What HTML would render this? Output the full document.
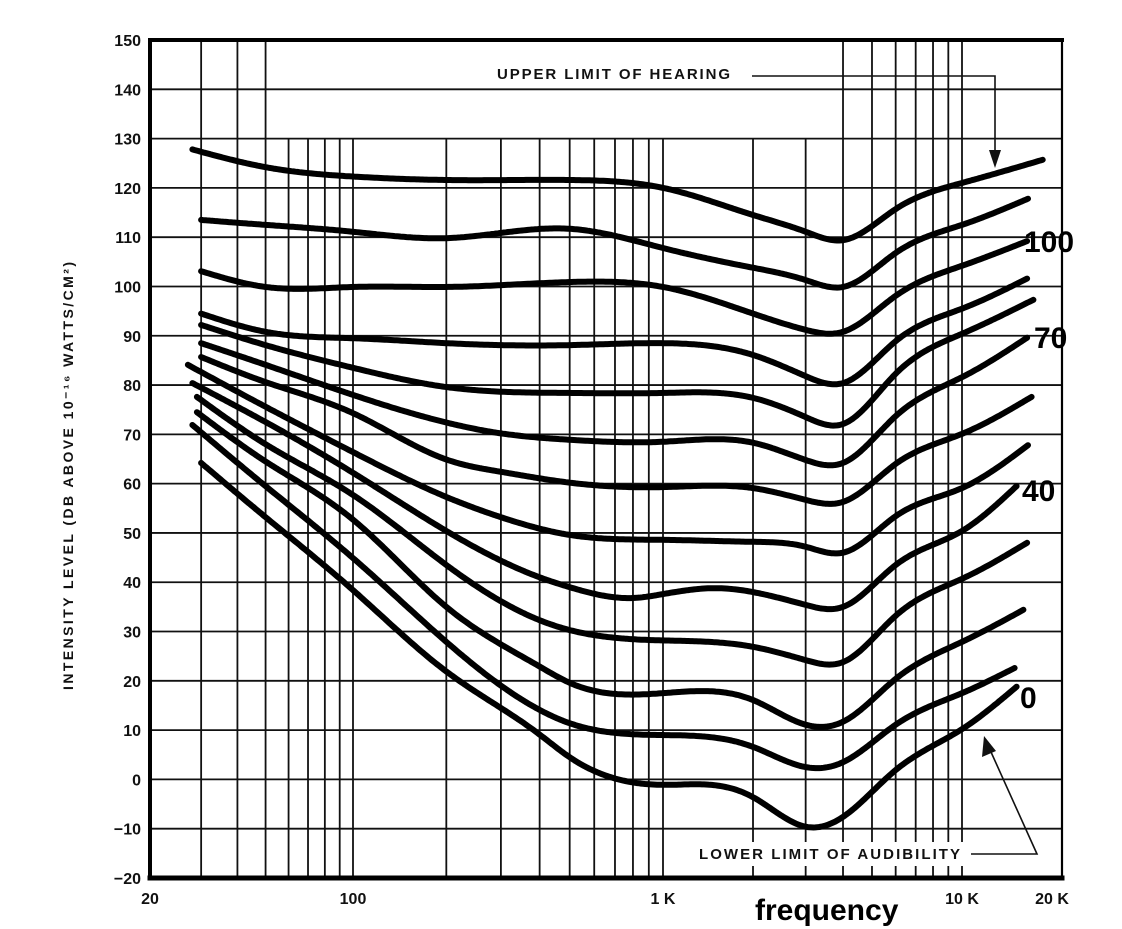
<!DOCTYPE html>
<html><head><meta charset="utf-8">
<style>
html,body{margin:0;padding:0;background:#fff;}
svg{display:block;}
text{font-family:"Liberation Sans",sans-serif;}
</style></head>
<body>
<svg id="chart" width="1122" height="929" viewBox="0 0 1122 929" xmlns="http://www.w3.org/2000/svg">
<rect x="0" y="0" width="1122" height="929" fill="#fff"/>
<g id="grid"></g>
<g id="curves"></g>
<g id="axes"></g>
<g id="labels"></g>
</svg>
<script>
const yTicks = [150,140,130,120,110,100,90,80,70,60,50,40,30,20,10,0,-10,-20];
const yTickLabels = ["150","140","130","120","110","100","90","80","70","60","50","40","30","20","10","0","-10","-20"];
const gridFreqs = [30,40,50,60,70,80,90,100,200,300,400,500,600,700,800,900,1000,2000,3000,4000,5000,6000,7000,8000,9000,10000];
const xTickFreqs = [20,100,1000,10000,20000];
const xTickLabels = ["20","100","1 K","10 K","20 K"];
const curveNames = ["upper-limit","curve-110","curve-100","curve-90","curve-80","curve-70","curve-60","curve-50","curve-40","curve-30","curve-20","curve-10","lower-limit"];
const f1 = [28,50,100,200,500,1000,2000,3000,4000,6000,10000,17500];
const c1 = [127.8,124.2,122.3,121.6,121.6,120,114.5,111.1,109.4,115.7,121,125.7];
const f2 = [30,50,100,200,500,1000,2000,3000,4000,6000,10000,15800];
const c2 = [113.5,112.5,111.1,109.8,111.7,107.8,103.8,101.3,99.9,106.8,112.5,117.8];
const f3 = [30,50,100,200,500,1000,2000,3000,4000,6000,10000,15700];
const c3 = [103.1,99.9,99.9,99.9,100.9,99.9,94.5,91.2,90.8,98.1,104.2,109.2];
const f4 = [30,50,100,200,500,1000,2000,3000,4000,6000,10000,15700];
const c4 = [94.5,90.8,89.5,88.5,88.1,88.5,86.1,81.8,80.4,88.9,95.5,101.6];
const f5 = [30,50,100,200,500,1000,2000,3000,4000,6000,10000,16400];
const c5 = [92.2,88.1,83.5,79.6,78.4,78.4,77.4,73.5,72.1,82.3,90.4,97.3];
const f6 = [30,50,100,200,300,500,1000,2000,3000,4000,6000,10000,15700];
const c6 = [88.5,84.1,78.0,72.4,70.2,68.9,68.5,68.3,64.8,64.2,73.7,81.6,89.6];
const f7 = [30,50,100,200,300,500,1000,2000,3000,4000,6000,10000,16200];
const c7 = [85.7,80.6,74.3,64.9,62.4,60.2,59.3,59.1,56.7,56.3,64.0,70.1,77.6];
const f8 = [27,50,100,200,300,500,1000,2000,3000,4000,6000,10000,15800];
const c8 = [84.1,75.6,66.4,57.3,53.2,49.6,48.6,48.2,47.2,46.0,53.4,59.1,67.8];
const f9 = [28,50,100,200,400,500,800,1000,1500,2000,3000,4000,6000,10000,14600];
const c9 = [80.4,72.5,62.2,50.4,41.0,39.0,36.8,37.6,38.8,38.0,35.4,35.0,43.5,50.4,59.5];
const f10 = [29,50,100,200,400,500,1000,2000,3000,4000,6000,10000,15700];
const c10 = [77.6,68.0,57.7,43.5,32.3,30.3,28.2,26.9,24.2,23.8,33.2,40.7,48.0];
const f11 = [29,50,100,200,400,500,1000,2000,3000,4000,6000,10000,15300];
const c11 = [74.5,64.5,52.7,35.0,22.9,19.6,17.5,16.1,11.1,11.7,20.4,27.9,34.4];
const f12 = [28,50,100,200,400,500,1000,2000,3000,4000,6000,10000,14400];
const c12 = [71.9,59.5,44.9,27.9,14.1,11.4,9.0,6.6,2.5,3.5,11.1,17.5,22.6];
const f13 = [30,50,100,200,400,500,1000,1500,2000,3000,4000,6000,10000,14600];
const c13 = [64.2,53.2,38.4,21.9,9.1,4.5,-1.1,-1.2,-3.6,-9.6,-7.6,1.9,10.2,18.8];
const seriesF = [f1,f2,f3,f4,f5,f6,f7,f8,f9,f10,f11,f12,f13];
const seriesV = [c1,c2,c3,c4,c5,c6,c7,c8,c9,c10,c11,c12,c13];

const NS = "http://www.w3.org/2000/svg";
const axF = [20,100,1000,10000,20000];
const axX = [150,353,663,962,1062];
function xScale(f){
  const lf = Math.log10(f);
  for(let i=0;i<axF.length-1;i++){
    const a=Math.log10(axF[i]), b=Math.log10(axF[i+1]);
    if(lf<=b || i===axF.length-2){ return axX[i]+(lf-a)/(b-a)*(axX[i+1]-axX[i]); }
  }
}
function yScale(v){ return 878 - (v+20)*(838/170); }
function mk(tag, attrs, parent){
  const e=document.createElementNS(NS,tag);
  for(const k in attrs) e.setAttribute(k, attrs[k]);
  parent.appendChild(e); return e;
}
const grid=document.getElementById('grid');
const axes=document.getElementById('axes');
const curves=document.getElementById('curves');
const X0=xScale(20), X1=xScale(20000), YT=yScale(150), YB=yScale(-20);

yTicks.forEach((v,i)=>{
  if(v===150||v===-20) return;
  const l=mk('line',{x1:X0,x2:X1,y1:yScale(v),y2:yScale(v),stroke:'#111','stroke-width':1.8},grid);
  
  
});
gridFreqs.forEach(f=>{
  let top = YT;
  if(!((f>=30&&f<=50)||(f>=4000))) top = yScale(130);
  const l=mk('line',{x1:xScale(f),x2:xScale(f),y1:top,y2:YB,stroke:'#111','stroke-width':1.8},grid);
  
  
});
const wb1=mk('rect',{x:488,y:62,width:254,height:24,fill:'#fff'},grid);


const wb2=mk('rect',{x:690,y:842,width:278,height:24,fill:'#fff'},grid);



const fr=[['axis-top',X0,YT,X1,YT,4],['axis-bottom',X0,YB,X1,YB,5],['axis-left',X0,YT,X0,YB,4],['axis-right',X1,YT,X1,YB,2.2]];
fr.forEach(a=>{
  const l=mk('line',{x1:a[1],y1:a[2],x2:a[3],y2:a[4],stroke:'#000','stroke-width':a[5],'stroke-linecap':'square'},axes);
  
  
});
yTicks.forEach((v,i)=>{
  const t=mk('text',{x:141,y:yScale(v)+6,'text-anchor':'end','font-size':16,'font-weight':'bold',fill:'#111'},axes);
  t.textContent=yTickLabels[i].replace('-','\u2212');
  
  
});
xTickFreqs.forEach((f,i)=>{
  let x=xScale(f); if(f===20000) x-=10;
  const t=mk('text',{x:x,y:904,'text-anchor':'middle','font-size':16,'font-weight':'bold',fill:'#111'},axes);
  t.textContent=xTickLabels[i];
  
  
});

// natural cubic spline in pixel space, sampled densely
function pathFor(fs, vs){
  const xs=fs.map(xScale), ys=vs.map(yScale), n=xs.length;
  const h=[],al=[],l=[1],mu=[0],z=[0],c=new Array(n).fill(0),b=[],d=[];
  for(let i=0;i<n-1;i++) h.push(xs[i+1]-xs[i]);
  for(let i=1;i<n-1;i++) al[i]=3/h[i]*(ys[i+1]-ys[i])-3/h[i-1]*(ys[i]-ys[i-1]);
  for(let i=1;i<n-1;i++){
    l[i]=2*(xs[i+1]-xs[i-1])-h[i-1]*mu[i-1];
    mu[i]=h[i]/l[i]; z[i]=(al[i]-h[i-1]*z[i-1])/l[i];
  }
  for(let j=n-2;j>=0;j--){
    c[j]=(j===0?0:z[j]-mu[j]*c[j+1]);
    b[j]=(ys[j+1]-ys[j])/h[j]-h[j]*(c[j+1]+2*c[j])/3;
    d[j]=(c[j+1]-c[j])/(3*h[j]);
  }
  let dstr='M'+xs[0].toFixed(1)+','+ys[0].toFixed(1);
  for(let j=0;j<n-1;j++){
    const steps=Math.max(2,Math.ceil(h[j]/2));
    for(let s=1;s<=steps;s++){
      const t=h[j]*s/steps;
      const y=ys[j]+b[j]*t+c[j]*t*t+d[j]*t*t*t;
      dstr+=' L'+(xs[j]+t).toFixed(1)+','+y.toFixed(1);
    }
  }
  return dstr;
}
seriesF.forEach((fs,k)=>{
  const pth=mk('path',{d:pathFor(fs,seriesV[k]),fill:'none',stroke:'#000','stroke-width':6,'stroke-linecap':'round','stroke-linejoin':'round'},curves);
  
  
});
</script>
<script>
(function(){
  const NS="http://www.w3.org/2000/svg";
  const svg=document.getElementById('labels');
  function add(tag,attrs,txt){const e=document.createElementNS(NS,tag);for(const k in attrs)e.setAttribute(k,attrs[k]);if(txt!==undefined)e.textContent=txt;svg.appendChild(e);return e;}
  let e;
  e=add('text',{x:497,y:79,'font-size':15,'font-weight':'bold',fill:'#111',textLength:233,lengthAdjust:'spacing'},'UPPER LIMIT OF HEARING');
  
  
  e=add('path',{d:'M752,76 L995,76 L995,152',fill:'none',stroke:'#111','stroke-width':1.6});
  
  
  e=add('path',{d:'M989,150 L1001,150 L995,168 Z',fill:'#111'});
  
  
  e=add('text',{x:699,y:859,'font-size':15,'font-weight':'bold',fill:'#111',textLength:261,lengthAdjust:'spacing'},'LOWER LIMIT OF AUDIBILITY');
  
  
  e=add('path',{d:'M971,854 L1037,854 L991,752',fill:'none',stroke:'#111','stroke-width':1.6});
  
  
  e=add('path',{d:'M984,736 L982,757 L996,751 Z',fill:'#111'});
  
  
  const lab=[['100',1024,252,'phon-label-100'],['70',1034,348,'phon-label-70'],['40',1022,501,'phon-label-40'],['0',1020,708,'phon-label-0']];
  lab.forEach(l=>{
    const t=add('text',{x:l[1],y:l[2],'font-size':30,'font-weight':'bold',fill:'#000'},l[0]);
    
    
  });
  e=add('text',{x:755,y:920,'font-size':30,'font-weight':'bold',fill:'#000'},'frequency');
  
  
  e=add('text',{x:0,y:0,'font-size':14,'font-weight':'bold',fill:'#111','text-anchor':'middle',textLength:428,lengthAdjust:'spacing',transform:'translate(73,476) rotate(-90)'},'INTENSITY LEVEL (DB ABOVE 10\u207B\u00B9\u2076 WATTS/CM\u00B2)');
  
  
})();
</script>
</body></html>
